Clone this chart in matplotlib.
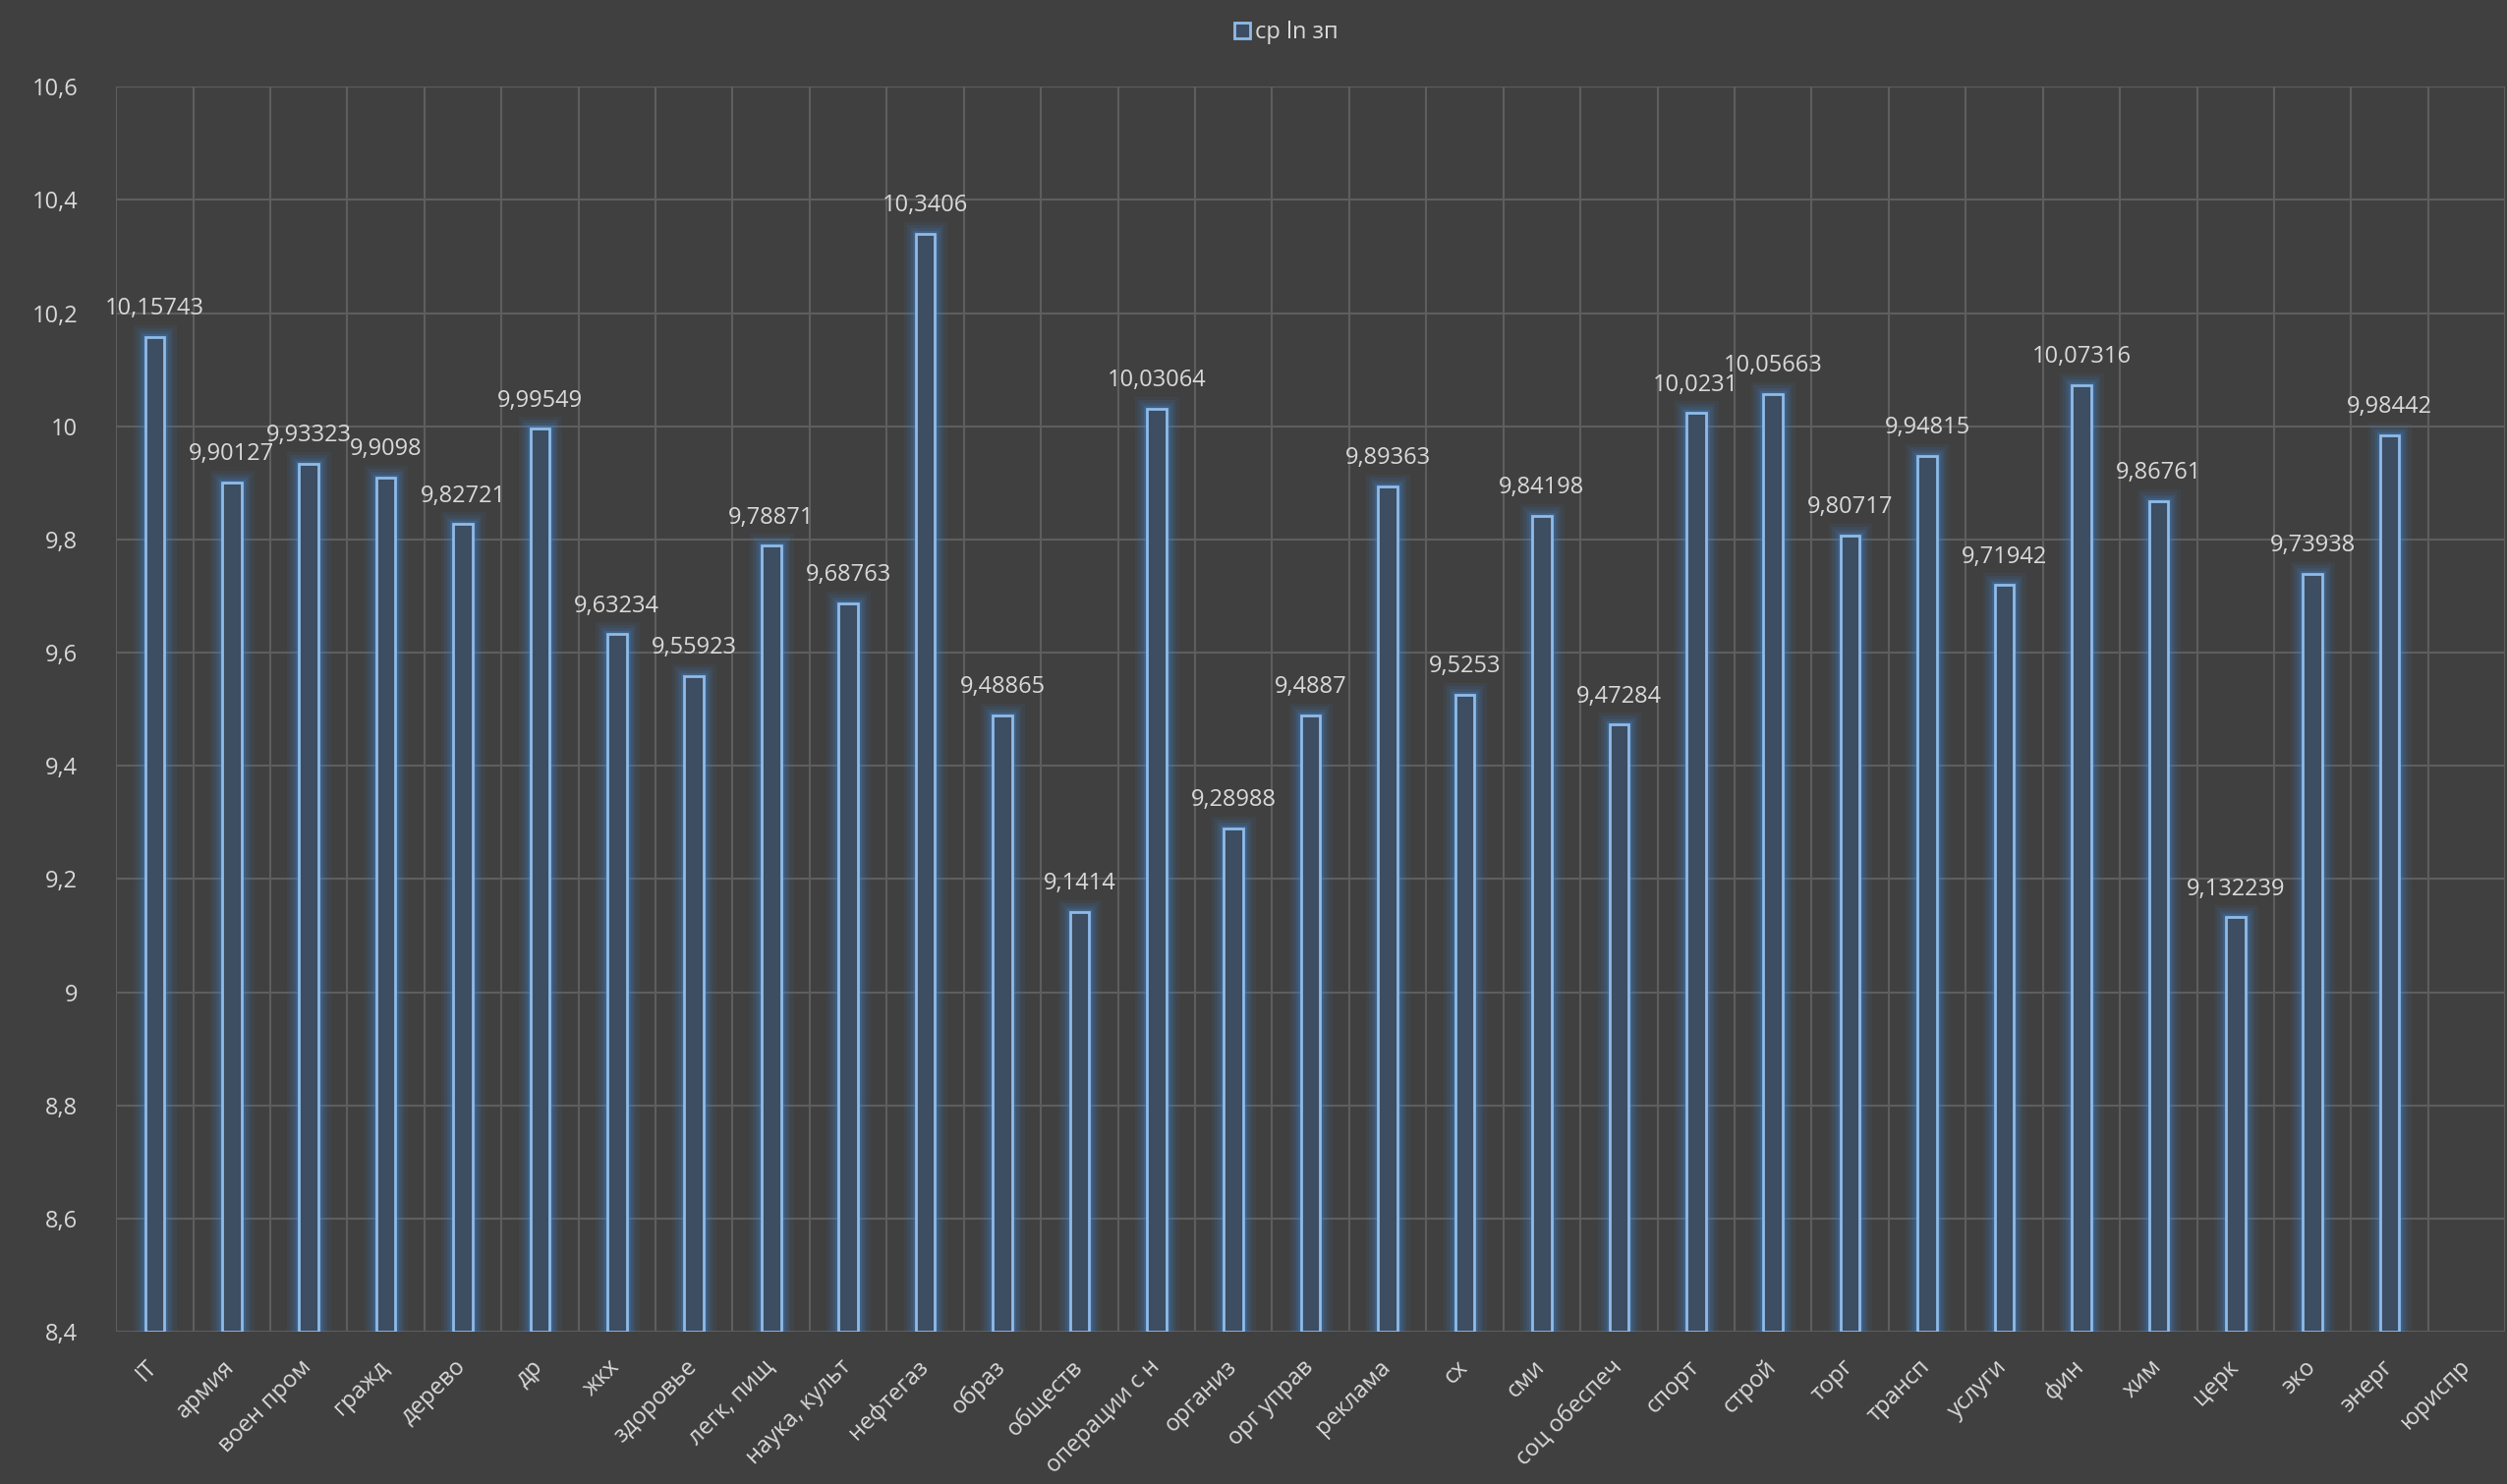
import numpy as np
import matplotlib
matplotlib.use('Agg')
import matplotlib.pyplot as plt
from matplotlib.transforms import blended_transform_factory

plt.rcParams['font.family'] = ['Open Sans', 'DejaVu Sans']

# categories and mean ln wage per sector
sectors = ['IT', 'армия', 'воен пром', 'гражд', 'дерево', 'др', 'жкх', 'здоровье',
           'легк, пищ', 'наука, культ', 'нефтегаз', 'образ', 'обществ', 'операции с н',
           'организ', 'орг управ', 'реклама', 'сх', 'сми', 'соц обеспеч', 'спорт',
           'строй', 'торг', 'трансп', 'услуги', 'фин', 'хим', 'церк', 'эко', 'энерг',
           'юриспр']
values = [10.15743, 9.90127, 9.93323, 9.9098, 9.82721, 9.99549, 9.63234, 9.55923,
          9.78871, 9.68763, 10.3406, 9.48865, 9.1414, 10.03064,
          9.28988, 9.4887, 9.89363, 9.5253, 9.84198, 9.47284, 10.0231,
          10.05663, 9.80717, 9.94815, 9.71942, 10.07316, 9.86761, 9.132239, 9.73938, 9.98442,
          None]
y_ticks = [8.4, 8.6, 8.8, 9.0, 9.2, 9.4, 9.6, 9.8, 10.0, 10.2, 10.4, 10.6]
y_tick_labels = ['8,4', '8,6', '8,8', '9', '9,2', '9,4', '9,6', '9,8', '10', '10,2', '10,4', '10,6']
series_name = 'ср ln зп'

bg = '#404040'
text_col = '#d9d9d9'
grid_col = '#5e5e5e'
edge_col = '#8fbbe8'
glow_col = '#3f88d8'
fill_col = '#3d4d62'

fig = plt.figure(figsize=(25.51, 15.10), dpi=100)
fig.patch.set_facecolor(bg)
ax = fig.add_axes([0.0463, 0.1026, 0.953, 0.839])
ax.set_facecolor(bg)

x = np.arange(len(sectors))
idx = [i for i, v in enumerate(values) if v is not None]
vals = np.array([values[i] for i in idx])
base = y_ticks[0]
w = 0.25

ax.tick_params(axis='both', which='both', length=0)
ax.tick_params(axis='y', pad=28)

# glow around bars
for lw, a in [(18, 0.07), (13, 0.1), (9, 0.15), (5, 0.25)]:
    ax.bar(x[idx], vals - base, bottom=base, width=w, color='none',
           edgecolor=glow_col, linewidth=lw, alpha=a, zorder=3)
bars = ax.bar(x[idx], vals - base, bottom=base, width=w, color=fill_col,
              edgecolor=edge_col, linewidth=2, zorder=4, label=series_name)

for i, v in zip(idx, vals):
    ax.annotate(str(v).replace('.', ','), (x[i], v), xytext=(0, 12),
                textcoords='offset points', ha='center', va='bottom',
                fontsize=17, color=text_col, zorder=5)

ax.set_ylim(y_ticks[0], y_ticks[-1])
ax.set_xlim(-0.5, len(sectors) - 0.5)
ax.set_yticks(y_ticks)
ax.set_yticklabels(y_tick_labels, fontsize=17, color=text_col)
ax.set_xticks(np.arange(-0.5, len(sectors), 1), minor=True)
ax.set_xticks(x)
ax.set_xticklabels([])

ax.grid(axis='y', which='major', color=grid_col, linewidth=1.5, zorder=0)
ax.grid(axis='x', which='minor', color=grid_col, linewidth=1.5, zorder=0)
for s in ax.spines.values():
    s.set_visible(False)

# rotated category labels in plain figure coordinates; each one is measured
# and moved so its upper-right corner sits just under its tick
renderer = fig.canvas.get_renderer()
base_tr = blended_transform_factory(ax.transData, ax.transAxes)
to_fig = fig.transFigure.inverted()
for xi, name in zip(x, sectors):
    px, py = base_tr.transform((xi, 0))
    fx, fy = to_fig.transform((px, py))
    t = fig.text(fx, fy, name, rotation=45, fontsize=17, color=text_col)
    bb = t.get_window_extent(renderer)
    nx, ny = to_fig.transform((px + (px + 8 - bb.x1), py + (py - 24 - bb.y1)))
    t.set_position((nx, ny))

leg = fig.legend(handles=[bars], labels=[series_name], loc='upper center',
                 bbox_to_anchor=(0.513, 1.0), frameon=False, fontsize=17,
                 handlelength=0.7, handleheight=0.7, handletextpad=0.2)
for t in leg.get_texts():
    t.set_color(text_col)

fig.savefig('out.png', dpi=100, facecolor=bg)
